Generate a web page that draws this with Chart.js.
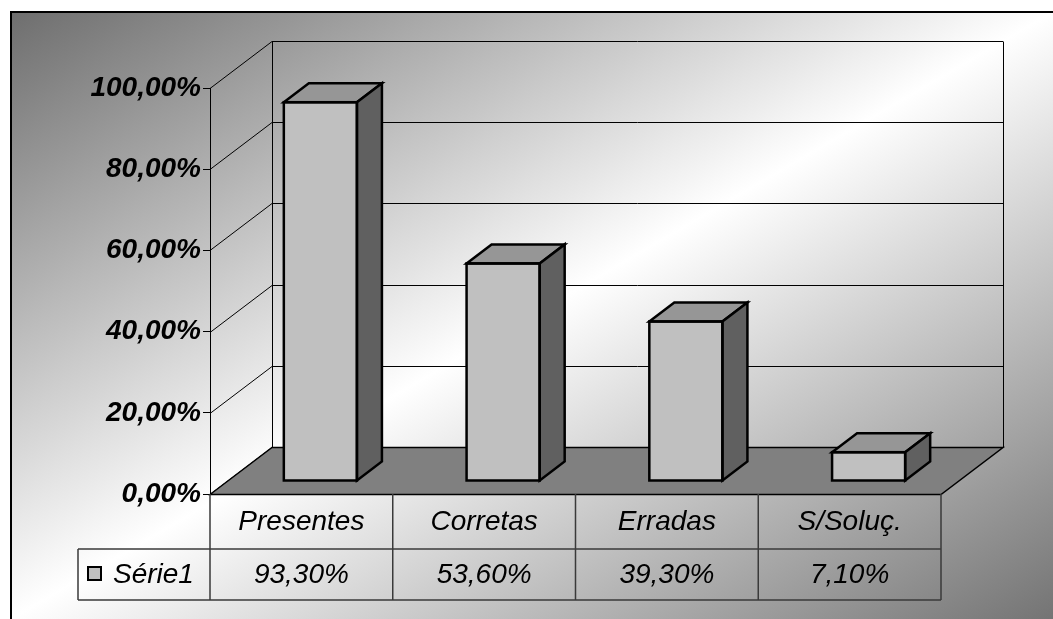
<!DOCTYPE html>
<html>
<head>
<meta charset="utf-8">
<title>Resultados</title>
<script src="https://cdn.jsdelivr.net/npm/chart.js@4.4.1/dist/chart.umd.min.js"></script>
<style>
  html, body { margin: 0; padding: 0; background: #fff; }
  #wrap { width: 1053px; height: 619px; position: relative; }
</style>
</head>
<body>
<div id="wrap"><canvas id="grafico" width="1053" height="619"></canvas></div>
<script>
// Dados do gráfico
const categorias = ['Presentes', 'Corretas', 'Erradas', 'S/Soluç.'];
const serie1 = [93.3, 53.6, 39.3, 7.1];
const nomeSerie = 'Série1';
const marcasY = [0, 20, 40, 60, 80, 100];

// Profundidade 3D (parede do fundo e colunas)
const PROF = { dx: 62, dy: -47 };
const COL_FRENTE = { dx: 19, dy: -13 };
const COL_PROF = { dx: 25, dy: -19 };

const FONTE = '"Liberation Sans", Arial, sans-serif';

function pct(v) {
  return v.toFixed(2).replace('.', ',') + '%';
}

// Fundo em degradê e moldura
const fundo = {
  id: 'fundo',
  beforeDraw(chart) {
    const ctx = chart.ctx;
    const x0 = 11, y0 = 12, w = chart.width - x0, h = chart.height - y0;
    const cx = x0 + w / 2, cy = y0 + h / 2;
    const d = Math.sqrt(w * w + h * h);
    const L = w * h / d;
    const ux = h / d, uy = w / d;
    const g = ctx.createLinearGradient(cx - L * ux, cy - L * uy, cx + L * ux, cy + L * uy);
    g.addColorStop(0, '#6e6e6e');
    g.addColorStop(0.5, '#ffffff');
    g.addColorStop(1, '#747474');
    ctx.save();
    ctx.fillStyle = '#ffffff';
    ctx.fillRect(0, 0, chart.width, chart.height);
    ctx.fillStyle = g;
    ctx.fillRect(x0, y0, w, h);
    ctx.strokeStyle = '#000';
    ctx.lineWidth = 2;
    ctx.beginPath();
    ctx.moveTo(x0, chart.height);
    ctx.lineTo(x0, y0);
    ctx.lineTo(chart.width, y0);
    ctx.stroke();
    ctx.restore();
  }
};

// Paredes, piso e colunas em 3D
const cena3d = {
  id: 'cena3d',
  beforeDatasetsDraw(chart) {
    const ctx = chart.ctx;
    const a = chart.chartArea;
    const y = chart.scales.y;
    ctx.save();
    ctx.strokeStyle = '#000';
    ctx.lineWidth = 1;
    // linhas de grade: lateral e fundo
    marcasY.forEach(v => {
      const py = Math.round(y.getPixelForValue(v)) + 0.5;
      ctx.beginPath();
      ctx.moveTo(a.left, py);
      ctx.lineTo(a.left + PROF.dx, py + PROF.dy);
      ctx.lineTo(a.right + PROF.dx, py + PROF.dy);
      ctx.stroke();
    });
    const topo = Math.round(y.getPixelForValue(100)) + 0.5;
    const base = Math.round(y.getPixelForValue(0)) + 0.5;
    ctx.beginPath();
    ctx.moveTo(a.left + PROF.dx + 0.5, topo + PROF.dy);
    ctx.lineTo(a.left + PROF.dx + 0.5, base + PROF.dy);
    ctx.moveTo(a.right + PROF.dx + 0.5, topo + PROF.dy);
    ctx.lineTo(a.right + PROF.dx + 0.5, base + PROF.dy);
    ctx.stroke();
    // piso
    ctx.beginPath();
    ctx.moveTo(a.left, base);
    ctx.lineTo(a.left + PROF.dx, base + PROF.dy);
    ctx.lineTo(a.right + PROF.dx, base + PROF.dy);
    ctx.lineTo(a.right, base);
    ctx.closePath();
    ctx.fillStyle = '#808080';
    ctx.fill();
    ctx.lineWidth = 1.5;
    ctx.stroke();
    ctx.restore();

    ctx.save();
    ctx.translate(COL_FRENTE.dx, COL_FRENTE.dy);
  },
  afterDatasetsDraw(chart) {
    const ctx = chart.ctx;
    const meta = chart.getDatasetMeta(0);
    ctx.lineWidth = 2.5;
    ctx.strokeStyle = '#000';
    ctx.lineJoin = 'miter';
    meta.data.forEach(el => {
      const p = el.getProps(['x', 'y', 'base', 'width'], true);
      const l = p.x - p.width / 2, r = p.x + p.width / 2;
      // face superior
      ctx.beginPath();
      ctx.moveTo(l, p.y);
      ctx.lineTo(l + COL_PROF.dx, p.y + COL_PROF.dy);
      ctx.lineTo(r + COL_PROF.dx, p.y + COL_PROF.dy);
      ctx.lineTo(r, p.y);
      ctx.closePath();
      ctx.fillStyle = '#969696';
      ctx.fill();
      ctx.stroke();
      // face lateral
      ctx.beginPath();
      ctx.moveTo(r, p.y);
      ctx.lineTo(r + COL_PROF.dx, p.y + COL_PROF.dy);
      ctx.lineTo(r + COL_PROF.dx, p.base + COL_PROF.dy);
      ctx.lineTo(r, p.base);
      ctx.closePath();
      ctx.fillStyle = '#606060';
      ctx.fill();
      ctx.stroke();
      // contorno frontal
      ctx.strokeRect(l, p.y, p.width, p.base - p.y);
    });
    ctx.restore();
  }
};

// Tabela de dados abaixo do piso
const tabela = {
  id: 'tabela',
  afterDraw(chart) {
    const ctx = chart.ctx;
    const a = chart.chartArea;
    const x = chart.scales.x;
    const topo = a.bottom;
    const meio = topo + 55;
    const fim = meio + 51;
    const esq = 78;
    const larg = (a.right - a.left) / categorias.length;
    ctx.save();
    ctx.strokeStyle = '#3a3a3a';
    ctx.lineWidth = 1.5;
    ctx.beginPath();
    ctx.moveTo(esq, meio); ctx.lineTo(a.right, meio);
    ctx.moveTo(esq, fim); ctx.lineTo(a.right, fim);
    ctx.moveTo(esq, meio); ctx.lineTo(esq, fim);
    for (let i = 0; i <= categorias.length; i++) {
      const px = a.left + i * larg;
      ctx.moveTo(px, topo); ctx.lineTo(px, fim);
    }
    ctx.stroke();

    ctx.fillStyle = '#000';
    ctx.font = 'italic 28px ' + FONTE;
    ctx.textAlign = 'center';
    ctx.textBaseline = 'middle';
    categorias.forEach((c, i) => {
      const cx = x.getPixelForValue(i);
      ctx.fillText(c, cx, topo + 28);
      ctx.fillText(pct(serie1[i]), cx, meio + 26);
    });
    // legenda da série
    ctx.fillStyle = '#c0c0c0';
    ctx.fillRect(88, meio + 25 - 7, 13, 13);
    ctx.strokeStyle = '#000';
    ctx.lineWidth = 2;
    ctx.strokeRect(88, meio + 25 - 7, 13, 13);
    ctx.fillStyle = '#000';
    ctx.textAlign = 'left';
    ctx.fillText(nomeSerie, 113, meio + 26);
    ctx.restore();
  }
};

new Chart(document.getElementById('grafico').getContext('2d'), {
  type: 'bar',
  data: {
    labels: categorias,
    datasets: [{
      label: nomeSerie,
      data: serie1,
      backgroundColor: '#c0c0c0',
      borderWidth: 0,
      categoryPercentage: 1,
      barPercentage: 0.4,
      clip: false
    }]
  },
  options: {
    responsive: false,
    animation: false,
    layout: {
      padding: { left: 0, top: 88, right: 112, bottom: 125 }
    },
    scales: {
      x: { display: false },
      y: {
        min: 0,
        max: 100,
        afterFit(scale) { scale.width = 210; },
        afterBuildTicks(scale) {
          scale.ticks = marcasY.map(v => ({ value: v }));
        },
        grid: {
          drawOnChartArea: false,
          drawTicks: true,
          tickLength: 7,
          color: '#000'
        },
        border: { display: true, color: '#000', width: 1 },
        ticks: {
          padding: 2,
          color: '#000',
          font: { family: FONTE, size: 28, style: 'italic', weight: 'bold' },
          callback: v => pct(v)
        }
      }
    },
    plugins: {
      legend: { display: false },
      tooltip: { enabled: false }
    }
  },
  plugins: [fundo, cena3d, tabela]
});
</script>
</body>
</html>
